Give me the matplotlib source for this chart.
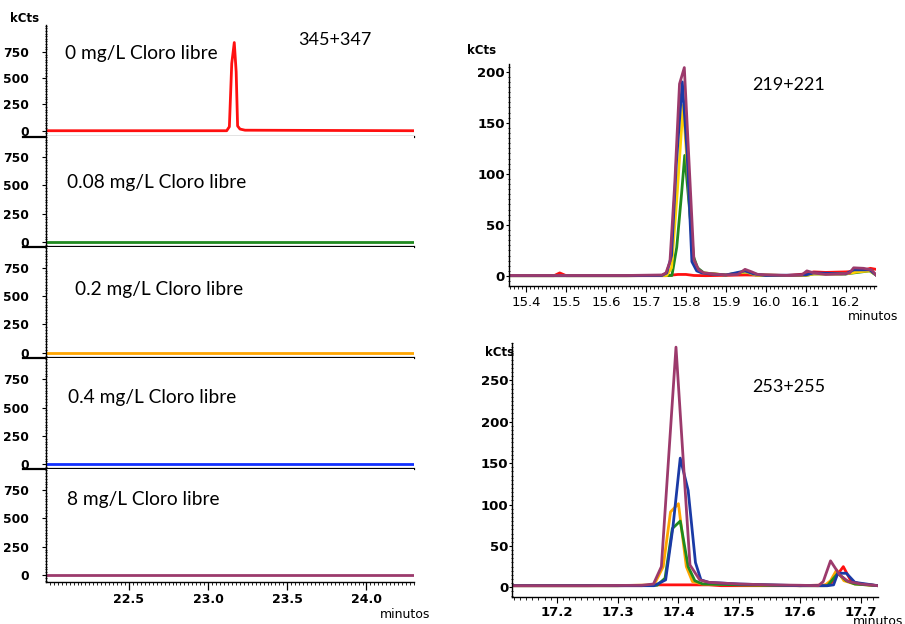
import matplotlib
matplotlib.use("Agg")
import matplotlib.pyplot as plt
from matplotlib.ticker import MultipleLocator, FixedLocator, FormatStrFormatter

W, H = 905, 624

# ---------------- data ----------------
# Left: 345+347 traces per free-chlorine level
left_labels = ["0 mg/L Cloro libre", "0.08 mg/L Cloro libre", "0.2 mg/L Cloro libre",
               "0.4 mg/L Cloro libre", "8 mg/L Cloro libre"]
left_t = [
    [21.976, 23.117, 23.134, 23.149, 23.165, 23.177, 23.186, 23.201, 23.233, 24.30],
    [21.976, 24.30],
    [21.976, 24.30],
    [21.976, 24.30],
    [21.976, 24.30],
]
left_v = [
    [0, 0, 38, 640, 840, 560, 45, 16, 5, 0],
    [0, 0],
    [0, 0],
    [0, 0],
    [0, 0],
]
left_ticks = [22.5, 23.0, 23.5, 24.0]
left_yticks = [0, 250, 500, 750]

# Top right: 219+221
tr_t_red = [15.357, 15.47, 15.484, 15.50, 15.60, 15.75, 15.78, 15.80, 15.82, 15.85, 15.95,
            16.05, 16.10, 16.12, 16.15, 16.20, 16.24, 16.262, 16.276]
tr_v_red = [0.3, 0.3, 3, 0.3, 0.3, 0.3, 1.5, 1.5, 0.5, 0.3, 1, 0.5, 2, 4, 3.5, 4, 5, 7.5, 6.5]
tr_t_green = [15.357, 15.55, 15.65, 15.765, 15.777, 15.789, 15.797, 15.808, 15.819, 15.829,
              15.845, 15.90, 15.95, 15.975, 16.05, 16.10, 16.12, 16.20, 16.26, 16.276]
tr_v_green = [0.3, 0.3, 0.3, 0.5, 28, 80, 118, 70, 19, 8, 3, 1, 4, 1, 0.5, 0.5, 2, 2, 5, 1]
tr_t_yellow = [15.357, 15.55, 15.65, 15.752, 15.764, 15.778, 15.793, 15.805, 15.817, 15.830,
               15.845, 15.90, 15.95, 15.975, 16.05, 16.10, 16.12, 16.20, 16.23, 16.26, 16.276]
tr_v_yellow = [0.3, 0.3, 0.3, 0.5, 8, 80, 167, 100, 18, 5, 3, 1, 4, 1, 0.5, 0.5, 2, 2, 4, 5, 1]
tr_t_blue = [15.357, 15.55, 15.65, 15.74, 15.752, 15.764, 15.776, 15.791, 15.803, 15.815,
             15.827, 15.84, 15.86, 15.90, 15.948, 15.97, 16.00, 16.10, 16.12, 16.20, 16.22,
             16.26, 16.276]
tr_v_blue = [0.3, 0.3, 0.3, 0.5, 3, 20, 110, 190, 120, 14, 5, 3, 2, 1, 5, 2, 0.5, 1, 3, 2, 6,
             6, 1]
tr_t_purple = [15.357, 15.45, 15.55, 15.65, 15.74, 15.75, 15.76, 15.772, 15.784, 15.796,
               15.808, 15.82, 15.832, 15.845, 15.87, 15.90, 15.93, 15.948, 15.965, 15.98,
               16.02, 16.06, 16.09, 16.103, 16.12, 16.15, 16.19, 16.21, 16.22, 16.245,
               16.265, 16.276]
tr_v_purple = [0.5, 0.5, 0.5, 0.5, 1, 3, 14, 90, 188, 204, 110, 16, 6, 3, 2, 1, 1.5, 6.5, 4,
               1.5, 1, 0.5, 1, 5, 3, 1.5, 2, 3, 8, 7.5, 6, 1]
tr_xticks = [15.4, 15.5, 15.6, 15.7, 15.8, 15.9, 16.0, 16.1, 16.2]
tr_yticks = [0, 50, 100, 150, 200]

# Bottom right: 253+255
br_t_red = [17.127, 17.34, 17.36, 17.45, 17.47, 17.60, 17.649, 17.671, 17.684, 17.70, 17.728]
br_v_red = [2, 2, 3, 3, 2, 2, 3, 25, 7, 4, 2]
br_t_green = [17.127, 17.30, 17.365, 17.378, 17.390, 17.403, 17.416, 17.427, 17.44, 17.50,
              17.60, 17.645, 17.662, 17.676, 17.69, 17.728]
br_v_green = [2, 2, 2.5, 11, 71, 80, 25, 8, 4, 3, 2, 2, 17, 8, 4, 2]
br_t_orange = [17.127, 17.30, 17.36, 17.375, 17.387, 17.400, 17.413, 17.423, 17.44, 17.50,
               17.60, 17.64, 17.650, 17.660, 17.672, 17.69, 17.728]
br_v_orange = [2, 2, 3, 25, 91, 101, 25, 7, 4, 3, 2, 2, 8, 21, 8, 4, 2]
br_t_blue = [17.127, 17.30, 17.36, 17.379, 17.391, 17.403, 17.416, 17.428, 17.437, 17.45,
             17.50, 17.60, 17.645, 17.655, 17.662, 17.676, 17.69, 17.728]
br_v_blue = [2, 2, 2, 9, 73, 156, 117, 30, 9, 6, 4, 2, 2, 3, 17, 17, 6, 2]
br_t_purple = [17.127, 17.25, 17.34, 17.359, 17.372, 17.396, 17.419, 17.435, 17.45, 17.50,
               17.55, 17.60, 17.63, 17.638, 17.650, 17.665, 17.679, 17.70, 17.728]
br_v_purple = [2, 2, 2.5, 4, 25, 290, 27, 9, 6, 4, 3, 2.5, 2, 7, 32, 15, 7, 4, 2]
br_xticks = [17.2, 17.3, 17.4, 17.5, 17.6, 17.7]
br_yticks = [0, 50, 100, 150, 200, 250]

# ---------------- styling ----------------
RED, GREEN, ORANGE, BLUE, PURPLE = "#ff1010", "#1f8a1f", "#ffa500", "#1030ff", "#9c3a6c"
YELLOW, DBLUE = "#ffd000", "#1a3aa6"
LW = 2.0
left_colors = [RED, GREEN, ORANGE, BLUE, PURPLE]

fig = plt.figure(figsize=(W / 100, H / 100), dpi=100)


def px_axes(x0, y0, x1, y1):
    """Axes spanning pixel box (x0,y0)-(x1,y1), y measured from the top."""
    return fig.add_axes([x0 / W, 1 - y1 / H, (x1 - x0) / W, (y1 - y0) / H])


def ftext(x, y, s, **kw):
    fig.text(x / W, 1 - y / H, s, **kw)


# Left stacked panels
edges = [25, 136.5, 247, 358.3, 469.3, 581.7]
ylims = [(-55, 1007), (-41, 927), (-49, 933), (-44, 935), (-59, 933)]
for i in range(5):
    ax = px_axes(46, edges[i], 414, edges[i + 1])
    ax.plot(left_t[i], left_v[i], color=left_colors[i], lw=LW, solid_joinstyle="round")
    ax.set_xlim(21.976, 24.30)
    ax.set_ylim(*ylims[i])
    for s in ("top", "right"):
        ax.spines[s].set_visible(False)
    ax.spines["left"].set_linewidth(1.0)
    ax.yaxis.set_major_locator(FixedLocator(left_yticks))
    ax.yaxis.set_minor_locator(MultipleLocator(25))
    ax.tick_params(axis="y", which="major", direction="out", length=3, width=0.8,
                   labelsize=8.8, pad=9)
    ax.tick_params(axis="y", which="minor", direction="inout", length=2, width=0.6)
    for lab in ax.get_yticklabels():
        lab.set_fontweight("bold")
    ax.xaxis.set_major_locator(FixedLocator(left_ticks))
    ax.xaxis.set_minor_locator(MultipleLocator(0.025))
    if i < 4:
        ax.spines["bottom"].set_visible(False)
        ax.plot([-0.0625, 1.0], [0, 0], transform=ax.transAxes, color="black", lw=1.6,
                clip_on=False)
        ax.tick_params(axis="x", which="both", bottom=False, labelbottom=False)
    else:
        ax.spines["bottom"].set_linewidth(1.0)
        ax.tick_params(axis="x", which="major", direction="out", length=6, width=0.9,
                       labelsize=9, pad=2)
        ax.tick_params(axis="x", which="minor", direction="out", length=2.5, width=0.6)
        for lab in ax.get_xticklabels():
            lab.set_fontweight("bold")
        ax.xaxis.set_major_formatter(FormatStrFormatter("%.1f"))

label_pos = [(65, 53), (67, 182), (75, 289), (68, 398), (67, 499)]
for (x, y), s in zip(label_pos, left_labels):
    ftext(x, y, s, family="Lato", fontsize=13.8, va="center", ha="left")
ftext(298, 40, "345+347", family="Lato", fontsize=13, va="center", ha="left")
ftext(10, 18, "kCts", fontsize=8.5, fontweight="bold", va="center", ha="left")
ftext(380, 614, "minutos", fontsize=9, va="center", ha="left")


def right_panel(box, xlim, ylim, xticks, yticks, series, title, title_xy, kcts_xy,
                minutos_xy, xbold):
    ax = px_axes(*box)
    for t, v, c in series:
        ax.plot(t, v, color=c, lw=LW, solid_joinstyle="round")
    ax.set_xlim(*xlim)
    ax.set_ylim(*ylim)
    for s in ("top", "right"):
        ax.spines[s].set_visible(False)
    ax.spines["left"].set_linewidth(1.0)
    ax.spines["bottom"].set_linewidth(1.0)
    ax.xaxis.set_major_locator(FixedLocator(xticks))
    ax.xaxis.set_minor_locator(MultipleLocator(0.01))
    ax.yaxis.set_major_locator(FixedLocator(yticks))
    ax.yaxis.set_minor_locator(MultipleLocator(5))
    ax.xaxis.set_major_formatter(FormatStrFormatter("%.1f"))
    ax.tick_params(axis="x", which="major", direction="out", length=4, width=0.8,
                   labelsize=9.5, pad=3)
    ax.tick_params(axis="x", which="minor", direction="out", length=2, width=0.6)
    ax.tick_params(axis="y", which="major", direction="out", length=2, width=0.8,
                   labelsize=9.5, pad=1)
    ax.tick_params(axis="y", which="minor", direction="inout", length=2, width=0.6)
    for lab in ax.get_yticklabels():
        lab.set_fontweight("bold")
    if xbold:
        for lab in ax.get_xticklabels():
            lab.set_fontweight("bold")
    ftext(*title_xy, title, family="Lato", fontsize=13, va="center", ha="left")
    ftext(*kcts_xy, "kCts", fontsize=8.5, fontweight="bold", va="center", ha="left")
    ftext(*minutos_xy, "minutos", fontsize=9, va="center", ha="left")
    return ax


right_panel((509, 64, 876, 286), (15.357, 16.276), (-9.8, 207.5), tr_xticks, tr_yticks,
            [(tr_t_red, tr_v_red, RED), (tr_t_green, tr_v_green, GREEN),
             (tr_t_yellow, tr_v_yellow, YELLOW), (tr_t_blue, tr_v_blue, DBLUE),
             (tr_t_purple, tr_v_purple, PURPLE)],
            "219+221", (752, 85), (467, 51), (848, 316), False)

right_panel((512.3, 343, 878, 596.7), (17.127, 17.728), (-11.3, 295), br_xticks, br_yticks,
            [(br_t_red, br_v_red, RED), (br_t_orange, br_v_orange, ORANGE),
             (br_t_green, br_v_green, GREEN), (br_t_blue, br_v_blue, DBLUE),
             (br_t_purple, br_v_purple, PURPLE)],
            "253+255", (752, 387), (485, 353), (853, 621.5), True)

fig.savefig("out.png", dpi=100)
